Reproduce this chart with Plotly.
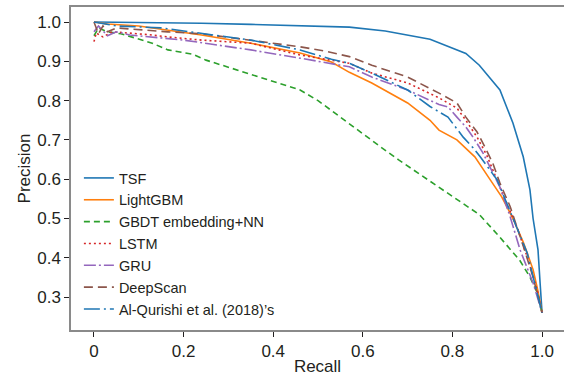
import plotly.graph_objects as go

tsf_x = [0, 0.1, 0.24, 0.35, 0.46, 0.57, 0.65, 0.75, 0.83, 0.86, 0.906, 0.935, 0.958, 0.973, 0.98, 0.991, 0.996, 1.0]
tsf_y = [1.0, 0.999, 0.997, 0.994, 0.991, 0.987, 0.977, 0.956, 0.92, 0.89, 0.827, 0.743, 0.657, 0.573, 0.50, 0.42, 0.33, 0.26]

lgb_x = [0, 0.03, 0.1, 0.165, 0.24, 0.35, 0.46, 0.53, 0.57, 0.62, 0.70, 0.75, 0.77, 0.81, 0.85, 0.88, 0.91, 0.935, 0.958, 0.98, 0.99, 1.0]
lgb_y = [1.0, 0.995, 0.99, 0.98, 0.967, 0.946, 0.921, 0.898, 0.872, 0.845, 0.794, 0.75, 0.725, 0.70, 0.657, 0.606, 0.555, 0.50, 0.44, 0.37, 0.32, 0.26]

gbdt_x = [0, 0.01, 0.03, 0.06, 0.09, 0.13, 0.165, 0.22, 0.25, 0.3, 0.35, 0.41, 0.46, 0.5, 0.57, 0.64, 0.68, 0.75, 0.8, 0.86, 0.9, 0.95, 0.973, 0.99, 1.0]
gbdt_y = [0.965, 0.985, 0.975, 0.97, 0.96, 0.946, 0.929, 0.918, 0.903, 0.885, 0.865, 0.845, 0.827, 0.80, 0.74, 0.682, 0.649, 0.595, 0.555, 0.51, 0.46, 0.394, 0.351, 0.31, 0.26]

lstm_x = [0, 0.005, 0.02, 0.04, 0.076, 0.12, 0.165, 0.24, 0.35, 0.46, 0.57, 0.62, 0.70, 0.77, 0.81, 0.83, 0.855, 0.877, 0.906, 0.944, 0.967, 0.989, 1.0]
lstm_y = [0.95, 0.972, 0.962, 0.975, 0.972, 0.968, 0.962, 0.954, 0.946, 0.916, 0.895, 0.87, 0.845, 0.807, 0.781, 0.75, 0.707, 0.66, 0.58, 0.478, 0.402, 0.318, 0.26]

gru_x = [0, 0.01, 0.03, 0.05, 0.08, 0.13, 0.2, 0.26, 0.35, 0.46, 0.57, 0.62, 0.70, 0.77, 0.79, 0.81, 0.83, 0.846, 0.868, 0.906, 0.929, 0.951, 0.98, 1.0]
gru_y = [0.975, 0.99, 0.965, 0.975, 0.967, 0.962, 0.954, 0.944, 0.929, 0.908, 0.886, 0.86, 0.827, 0.79, 0.784, 0.758, 0.733, 0.707, 0.667, 0.58, 0.504, 0.42, 0.336, 0.26]

deep_x = [0, 0.01, 0.02, 0.03, 0.05, 0.1, 0.165, 0.24, 0.35, 0.46, 0.52, 0.57, 0.62, 0.70, 0.77, 0.81, 0.83, 0.855, 0.868, 0.89, 0.906, 0.929, 0.958, 0.98, 1.0]
deep_y = [1.0, 0.97, 0.99, 0.975, 0.985, 0.98, 0.975, 0.97, 0.954, 0.937, 0.925, 0.912, 0.89, 0.86, 0.819, 0.794, 0.758, 0.72, 0.692, 0.641, 0.59, 0.53, 0.43, 0.351, 0.26]

alq_x = [0, 0.05, 0.15, 0.25, 0.35, 0.46, 0.53, 0.57, 0.62, 0.70, 0.75, 0.79, 0.824, 0.846, 0.862, 0.9, 0.921, 0.967, 1.0]
alq_y = [1.0, 0.99, 0.985, 0.97, 0.954, 0.929, 0.905, 0.895, 0.87, 0.827, 0.785, 0.758, 0.707, 0.68, 0.657, 0.598, 0.539, 0.412, 0.26]

names = ["TSF", "LightGBM", "GBDT embedding+NN", "LSTM", "GRU", "DeepScan", "Al-Qurishi et al. (2018)’s"]
colors = ["#1f77b4", "#ff7f0e", "#2ca02c", "#d62728", "#9467bd", "#8c564b", "#1f77b4"]
dashes = ["solid", "solid", "6px,4px", "2px,3px", "12px,3px,2px,3px", "9px,5px", "16px,4px,2px,4px"]

xs = [tsf_x, lgb_x, gbdt_x, lstm_x, gru_x, deep_x, alq_x]
ys = [tsf_y, lgb_y, gbdt_y, lstm_y, gru_y, deep_y, alq_y]

x_ticks = [0, 0.2, 0.4, 0.6, 0.8, 1.0]
x_tick_labels = ["0", "0.2", "0.4", "0.6", "0.8", "1.0"]
y_ticks = [0.3, 0.4, 0.5, 0.6, 0.7, 0.8, 0.9, 1.0]
y_tick_labels = ["0.3", "0.4", "0.5", "0.6", "0.7", "0.8", "0.9", "1.0"]

fig = go.Figure()
for i in range(len(names)):
    fig.add_trace(go.Scatter(x=xs[i], y=ys[i], mode="lines", name=names[i],
                             line=dict(color=colors[i], width=1.6, dash=dashes[i])))

font_fam = "Liberation Sans, Arial, sans-serif"
axis_col = "#8a8a8a"
fig.update_layout(
    width=564, height=376,
    margin=dict(l=71, r=0, t=7, b=46),
    paper_bgcolor="white", plot_bgcolor="white",
    font=dict(family=font_fam, color="#231f20", size=17),
    showlegend=True,
    legend=dict(x=0.016, y=0.0155, xanchor="left", yanchor="bottom",
                bgcolor="rgba(0,0,0,0)", font=dict(size=14.5, color="#231f20")),
    xaxis=dict(range=[-0.0513, 1.049], tickvals=x_ticks, ticktext=x_tick_labels,
               automargin=False,
               showgrid=False, zeroline=False, showline=True, linecolor=axis_col,
               linewidth=1.5, mirror=True, ticks="outside", ticklen=5, tickwidth=1.2,
               tickcolor="#231f20", tickfont=dict(size=17),
               title=dict(text="Recall", font=dict(size=17), standoff=4)),
    yaxis=dict(range=[0.2163, 1.0382], tickvals=y_ticks, ticktext=y_tick_labels,
               automargin=False,
               showgrid=False, zeroline=False, showline=True, linecolor=axis_col,
               linewidth=1.5, mirror=False, ticks="outside", ticklen=5, tickwidth=1.2,
               tickcolor="#231f20", tickfont=dict(size=17),
               title=dict(text="Precision", font=dict(size=17), standoff=2)),
)
fig.write_html("out.html", config={"displayModeBar": False},
               post_script="document.body.style.margin='0px';document.body.style.overflow='hidden';")
